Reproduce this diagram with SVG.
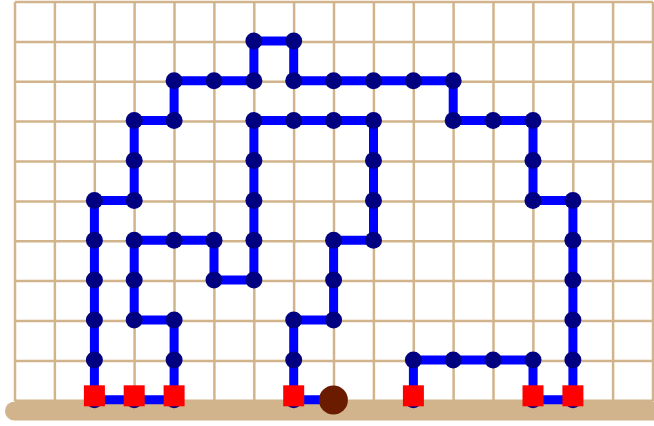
<svg xmlns="http://www.w3.org/2000/svg" width="654" height="426" viewBox="0 0 654 426">
<style>
.grid{fill:none;stroke:#D2B48C;stroke-width:2.5}
.ground{fill:#D2B48C}
.wire{fill:none;stroke:#0000FF;stroke-width:9;stroke-linejoin:round}
.node{fill:#000080}
.anchor{fill:#FF0000}
.root{fill:#6A1B00}
</style>
<rect x="0" y="0" width="654" height="426" fill="#ffffff"/>
<g id="grid">
<path class="grid" d="M15 2V401M54.9 2V401M94.8 2V401M134.6 2V401M174.5 2V401M214.4 2V401M254.3 2V401M294.1 2V401M334 2V401M373.9 2V401M413.8 2V401M453.6 2V401M493.5 2V401M533.4 2V401M573.3 2V401M613.1 2V401M653 2V401M15 2H653M15 41.9H653M15 81.8H653M15 121.6H653M15 161.5H653M15 201.4H653M15 241.3H653M15 281.1H653M15 321H653M15 360.9H653M15 400.8H653"/>
</g>
<rect id="ground" class="ground" x="5" y="401.5" width="670" height="19" rx="9.5"/>
<g id="connectors">
<polyline class="wire" points="413.4,399.8 413.4,359.9 453.2,359.9 493.1,359.9 533,359.9 533,399.8 572.9,399.8 572.9,359.9 572.9,320 572.9,280.1 572.9,240.3 572.9,200.4 533,200.4 533,160.5 533,120.6 493.1,120.6 453.2,120.6 453.2,80.8 413.4,80.8 373.5,80.8 333.6,80.8 293.7,80.8 293.7,40.9 253.9,40.9 253.9,80.8 214,80.8 174.1,80.8 174.1,120.6 134.2,120.6 134.2,160.5 134.2,200.4 94.4,200.4 94.4,240.3 94.4,280.1 94.4,320 94.4,359.9 94.4,399.8 134.2,399.8 174.1,399.8"/>
<polyline class="wire" points="174.1,399.8 174.1,359.9 174.1,320 134.2,320 134.2,280.1 134.2,240.3 174.1,240.3 214,240.3 214,280.1 253.9,280.1 253.9,240.3 253.9,200.4 253.9,160.5 253.9,120.6 293.7,120.6 333.6,120.6 373.5,120.6 373.5,160.5 373.5,200.4 373.5,240.3 333.6,240.3 333.6,280.1 333.6,320 293.7,320 293.7,359.9 293.7,399.8 333.6,399.8"/>
</g>
<g id="nodes">
<g id="n6-1"><circle class="node" cx="253.9" cy="40.9" r="8.5"/></g>
<g id="n7-1"><circle class="node" cx="293.7" cy="40.9" r="8.5"/></g>
<g id="n4-2"><circle class="node" cx="174.1" cy="80.8" r="8.5"/></g>
<g id="n5-2"><circle class="node" cx="214" cy="80.8" r="8.5"/></g>
<g id="n6-2"><circle class="node" cx="253.9" cy="80.8" r="8.5"/></g>
<g id="n7-2"><circle class="node" cx="293.7" cy="80.8" r="8.5"/></g>
<g id="n8-2"><circle class="node" cx="333.6" cy="80.8" r="8.5"/></g>
<g id="n9-2"><circle class="node" cx="373.5" cy="80.8" r="8.5"/></g>
<g id="n10-2"><circle class="node" cx="413.4" cy="80.8" r="8.5"/></g>
<g id="n11-2"><circle class="node" cx="453.2" cy="80.8" r="8.5"/></g>
<g id="n3-3"><circle class="node" cx="134.2" cy="120.6" r="8.5"/></g>
<g id="n4-3"><circle class="node" cx="174.1" cy="120.6" r="8.5"/></g>
<g id="n6-3"><circle class="node" cx="253.9" cy="120.6" r="8.5"/></g>
<g id="n7-3"><circle class="node" cx="293.7" cy="120.6" r="8.5"/></g>
<g id="n8-3"><circle class="node" cx="333.6" cy="120.6" r="8.5"/></g>
<g id="n9-3"><circle class="node" cx="373.5" cy="120.6" r="8.5"/></g>
<g id="n11-3"><circle class="node" cx="453.2" cy="120.6" r="8.5"/></g>
<g id="n12-3"><circle class="node" cx="493.1" cy="120.6" r="8.5"/></g>
<g id="n13-3"><circle class="node" cx="533" cy="120.6" r="8.5"/></g>
<g id="n3-4"><circle class="node" cx="134.2" cy="160.5" r="8.5"/></g>
<g id="n6-4"><circle class="node" cx="253.9" cy="160.5" r="8.5"/></g>
<g id="n9-4"><circle class="node" cx="373.5" cy="160.5" r="8.5"/></g>
<g id="n13-4"><circle class="node" cx="533" cy="160.5" r="8.5"/></g>
<g id="n2-5"><circle class="node" cx="94.4" cy="200.4" r="8.5"/></g>
<g id="n3-5"><circle class="node" cx="134.2" cy="200.4" r="8.5"/></g>
<g id="n6-5"><circle class="node" cx="253.9" cy="200.4" r="8.5"/></g>
<g id="n9-5"><circle class="node" cx="373.5" cy="200.4" r="8.5"/></g>
<g id="n13-5"><circle class="node" cx="533" cy="200.4" r="8.5"/></g>
<g id="n14-5"><circle class="node" cx="572.9" cy="200.4" r="8.5"/></g>
<g id="n2-6"><circle class="node" cx="94.4" cy="240.3" r="8.5"/></g>
<g id="n3-6"><circle class="node" cx="134.2" cy="240.3" r="8.5"/></g>
<g id="n4-6"><circle class="node" cx="174.1" cy="240.3" r="8.5"/></g>
<g id="n5-6"><circle class="node" cx="214" cy="240.3" r="8.5"/></g>
<g id="n6-6"><circle class="node" cx="253.9" cy="240.3" r="8.5"/></g>
<g id="n8-6"><circle class="node" cx="333.6" cy="240.3" r="8.5"/></g>
<g id="n9-6"><circle class="node" cx="373.5" cy="240.3" r="8.5"/></g>
<g id="n14-6"><circle class="node" cx="572.9" cy="240.3" r="8.5"/></g>
<g id="n2-7"><circle class="node" cx="94.4" cy="280.1" r="8.5"/></g>
<g id="n3-7"><circle class="node" cx="134.2" cy="280.1" r="8.5"/></g>
<g id="n5-7"><circle class="node" cx="214" cy="280.1" r="8.5"/></g>
<g id="n6-7"><circle class="node" cx="253.9" cy="280.1" r="8.5"/></g>
<g id="n8-7"><circle class="node" cx="333.6" cy="280.1" r="8.5"/></g>
<g id="n14-7"><circle class="node" cx="572.9" cy="280.1" r="8.5"/></g>
<g id="n2-8"><circle class="node" cx="94.4" cy="320" r="8.5"/></g>
<g id="n3-8"><circle class="node" cx="134.2" cy="320" r="8.5"/></g>
<g id="n4-8"><circle class="node" cx="174.1" cy="320" r="8.5"/></g>
<g id="n7-8"><circle class="node" cx="293.7" cy="320" r="8.5"/></g>
<g id="n8-8"><circle class="node" cx="333.6" cy="320" r="8.5"/></g>
<g id="n14-8"><circle class="node" cx="572.9" cy="320" r="8.5"/></g>
<g id="n2-9"><circle class="node" cx="94.4" cy="359.9" r="8.5"/></g>
<g id="n4-9"><circle class="node" cx="174.1" cy="359.9" r="8.5"/></g>
<g id="n7-9"><circle class="node" cx="293.7" cy="359.9" r="8.5"/></g>
<g id="n10-9"><circle class="node" cx="413.4" cy="359.9" r="8.5"/></g>
<g id="n11-9"><circle class="node" cx="453.2" cy="359.9" r="8.5"/></g>
<g id="n12-9"><circle class="node" cx="493.1" cy="359.9" r="8.5"/></g>
<g id="n13-9"><circle class="node" cx="533" cy="359.9" r="8.5"/></g>
<g id="n14-9"><circle class="node" cx="572.9" cy="359.9" r="8.5"/></g>
<g id="n2-10"><circle class="node" cx="94.4" cy="399.8" r="8.5"/><rect class="anchor" x="83.9" y="385.3" width="21" height="21"/></g>
<g id="n3-10"><circle class="node" cx="134.2" cy="399.8" r="8.5"/><rect class="anchor" x="123.7" y="385.3" width="21" height="21"/></g>
<g id="n4-10"><circle class="node" cx="174.1" cy="399.8" r="8.5"/><rect class="anchor" x="163.6" y="385.3" width="21" height="21"/></g>
<g id="n7-10"><circle class="node" cx="293.7" cy="399.8" r="8.5"/><rect class="anchor" x="283.2" y="385.3" width="21" height="21"/></g>
<g id="n10-10"><circle class="node" cx="413.4" cy="399.8" r="8.5"/><rect class="anchor" x="402.9" y="385.3" width="21" height="21"/></g>
<g id="n13-10"><circle class="node" cx="533" cy="399.8" r="8.5"/><rect class="anchor" x="522.5" y="385.3" width="21" height="21"/></g>
<g id="n14-10"><circle class="node" cx="572.9" cy="399.8" r="8.5"/><rect class="anchor" x="562.4" y="385.3" width="21" height="21"/></g>
<g id="root"><circle class="root" cx="333.4" cy="400" r="14.5"/></g>
</g>
</svg>
